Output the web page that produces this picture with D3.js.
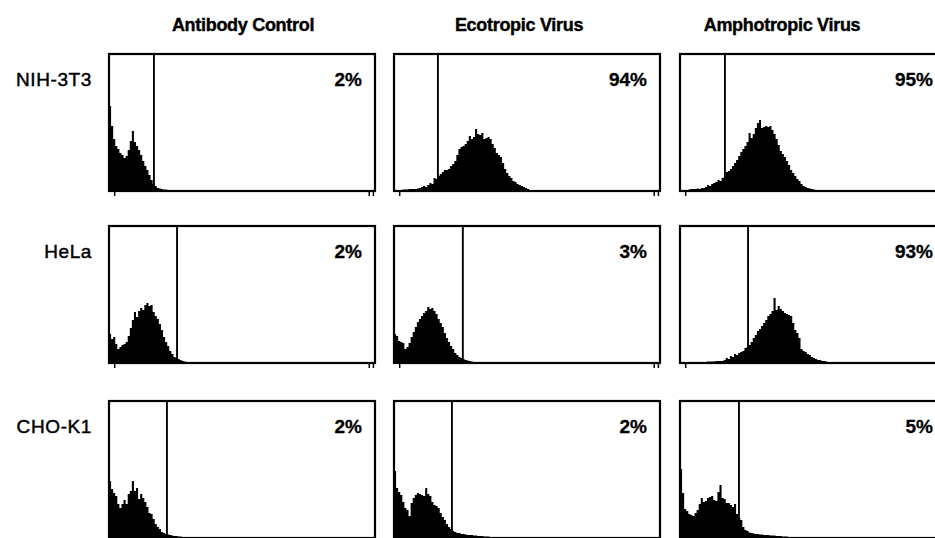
<!DOCTYPE html>
<html><head><meta charset="utf-8">
<script src="https://cdn.jsdelivr.net/npm/d3@7"></script>
<style>html,body{margin:0;padding:0;background:#fff;} svg{display:block;}</style>
</head><body>
<svg id="chart" width="935" height="538"></svg>
<script>
// ---------- data ----------
const rowLabels = ["NIH-3T3", "HeLa", "CHO-K1"];
const colLabels = ["Antibody Control", "Ecotropic Virus", "Amphotropic Virus"];
const percentLabels = [["2%", "94%", "95%"], ["2%", "3%", "93%"], ["2%", "2%", "5%"]];
const gateChannels = [[173, 169, 173], [262, 265, 262], [223, 223, 227]];
const channelMax = 1024;   // fluorescence channels
const binWidth = 8;        // channels per histogram bin
const countMax = 137;      // events, top of y scale

// events per bin, starting at channel 0
const histNIHControl = [85,65,52,45,42,38,36,33,35,41, 50,60,49,45,41,36,30,25,21,16, 11,7,5,3,2.5,2,1.5,1.5,1,1, 1,0.8,0.8,0.6,0.6,0.5,0.5];
const histNIHEco = [1,1,1,1,1.5,1.5,1.5,2,2,2, 2,2.5,3,4,5,4,6,8,7,13, 12,15,17,19,21,21,22,25,27,30, 36,42,44,45,47,50,55,52,54,62, 57,56,58,52,53,54,52,47,43,38, 36,34,28,22,18,15,13,10,9,7, 6,5,4,3,2,1,0.5];
const histNIHAmpho = [1,1,1,1,1.5,2,2,2,2.5,2, 3,3,4,6,5,7,8,9,11,10, 13,14,19,20,22,25,28,31,35,39, 42,45,49,58,53,57,63,68,71,63, 64,65,64,65,61,57,52,46,40,37, 34,30,26,21,18,15,12,10,7,5, 4,3,2.5,2,1.5,1,1];
const histHeLaControl = [29,24,26,19,14,16,18,19,21,27, 35,43,51,46,52,55,53,58,60,57, 58,51,47,44,39,33,26,21,17,12, 9,6,5,4,3,2,1.5,1,1,0.8, 0.6,0.6,0.5,0.5,0.5,0.5];
const histHeLaEco = [29,27,22,21,20,14,16,20,26,31, 36,41,44,47,50,52,56,54,55,52, 49,44,40,36,30,25,21,17,14,10, 8,6,5,4,3,2.5,2,1.5,1,1, 0.8,0.6,0.5,0.5];
const histHeLaAmpho = [1,1,1,1,1,1,1,1,1,1, 1,1,1,1.5,1.5,1.5,1.5,2,2,2, 2,3,5,4,7,6,9,8,10,11, 12,15,16,18,21,25,28,32,34,37, 40,43,47,49,52,65,53,57,54,52, 50,49,48,47,40,33,30,25,14,12, 11,9,8,6,5,4,3,3,2,2, 1.5,1,1];
const histCHOControl = [57,49,45,42,34,30,34,38,34,44, 47,57,47,50,39,44,40,36,31,25, 24,19,14,11,9,6,5,4,3.5,3, 2.5,2,2,1.5,1.5,1,1,1,0.8,0.8, 0.6,0.6,0.5,0.5,0.5,0.5];
const histCHOEco = [67,50,46,43,36,30,28,22,35,40, 43,45,44,43,42,50,44,42,36,33, 32,30,25,21,18,14,11,9,7,6, 5,5,4,4,3.5,3,3,3,2.5,2.5, 2,2,2,1.5,1.5,1.5,1,1,1];
const histCHOAmpho = [69,45,29,27,24,23,22,25,28,34, 40,36,37,40,41,42,38,37,46,53, 40,39,35,35,33,31,34,24,20,18, 11,8,7,5.5,5,4.5,4,4,3.5,3.5, 3,3,3,2.5,2.5,2.5,2,2,2,1.5, 1.5,1.5,1,1];

const histograms = [
  [histNIHControl, histNIHEco, histNIHAmpho],
  [histHeLaControl, histHeLaEco, histHeLaAmpho],
  [histCHOControl, histCHOEco, histCHOAmpho]
];
const axisTickChannels = [20, 1000, 1016];

// ---------- layout ----------
const colX = [109, 394, 680];
const rowY = [54, 226, 401];
const W = 266, H = 137;
const titleX = [243, 519, 782];
const font = "'Liberation Sans', Arial, Helvetica, sans-serif";

const svg = d3.select("#chart");
svg.append("rect").attr("width", 935).attr("height", 538).attr("fill", "#fff");

const x = d3.scaleLinear().domain([0, channelMax]).range([0, W]);
const y = d3.scaleLinear().domain([0, countMax]).range([H, 0]);

const area = d3.area()
  .x(d => x(d.ch))
  .y0(H)
  .y1(d => y(d.c))
  .curve(d3.curveStepAfter);

// column titles
svg.selectAll("text.col").data(colLabels).join("text")
  .attr("class", "col")
  .attr("x", (d, i) => titleX[i]).attr("y", 31)
  .attr("text-anchor", "middle")
  .attr("font-family", font).attr("font-weight", "bold").attr("font-size", 18)
  .attr("letter-spacing", -0.3)
  .attr("fill", "#000").attr("stroke", "#000").attr("stroke-width", 0.4)
  .text(d => d);

// row labels
svg.selectAll("text.row").data(rowLabels).join("text")
  .attr("class", "row")
  .attr("x", 92).attr("y", (d, i) => rowY[i] + 32)
  .attr("text-anchor", "end")
  .attr("font-family", font).attr("font-size", 19)
  .attr("letter-spacing", 0.6)
  .attr("fill", "#000").attr("stroke", "#000").attr("stroke-width", 0.45)
  .text(d => d);

rowLabels.forEach((rl, r) => {
  colLabels.forEach((cl, c) => {
    const g = svg.append("g").attr("transform", `translate(${colX[c]},${rowY[r]})`);
    const counts = histograms[r][c];
    const pts = counts.map((v, i) => ({ ch: i * binWidth, c: v }));
    pts.push({ ch: counts.length * binWidth, c: 0 });

    g.append("path").datum(pts).attr("d", area).attr("fill", "#000");

    // gate marker
    g.append("line")
      .attr("x1", x(gateChannels[r][c])).attr("x2", x(gateChannels[r][c]))
      .attr("y1", 0).attr("y2", H)
      .attr("stroke", "#000").attr("stroke-width", 1.9);

    // frame
    g.append("rect").attr("x", 0).attr("y", 0).attr("width", W).attr("height", H)
      .attr("fill", "none").attr("stroke", "#000").attr("stroke-width", 2.2);

    // bottom axis ticks
    const ax = g.append("g").attr("transform", `translate(0,${H})`)
      .call(d3.axisBottom(x).tickValues(axisTickChannels).tickSize(5).tickFormat(""));
    ax.select(".domain").remove();
    ax.selectAll(".tick line").attr("stroke", "#000").attr("stroke-width", 1.5);

    // percent positive
    g.append("text")
      .attr("x", W - 13).attr("y", 32)
      .attr("text-anchor", "end")
      .attr("font-family", font).attr("font-weight", "bold").attr("font-size", 19)
      .attr("fill", "#000").attr("stroke", "#000").attr("stroke-width", 0.3)
      .text(percentLabels[r][c]);
  });
});
</script>
</body></html>
